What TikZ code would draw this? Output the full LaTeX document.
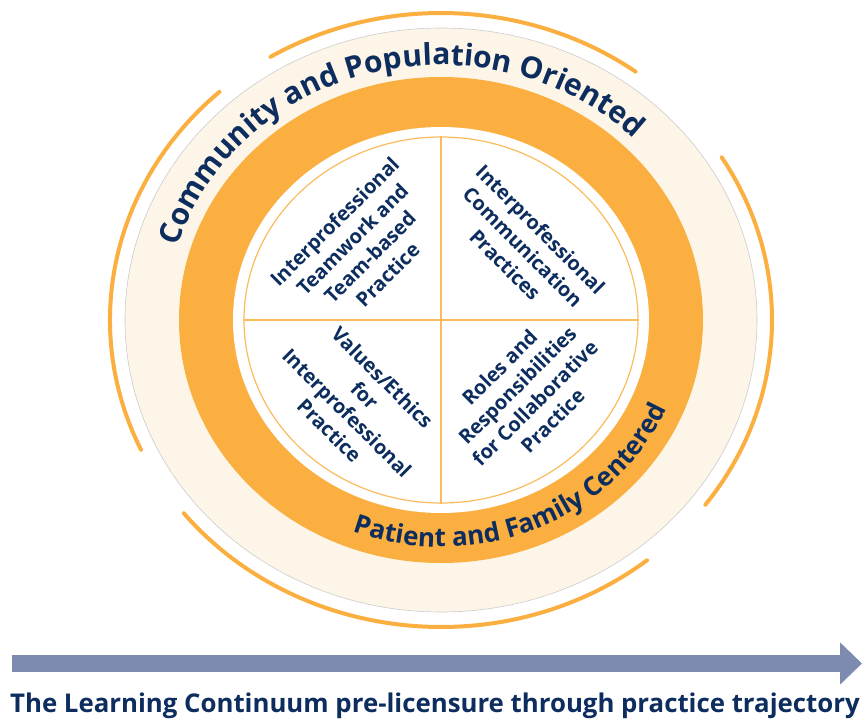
\documentclass[tikz,border=0pt]{standalone}
\usepackage{fontspec}
\setmainfont{Open Sans}
\usetikzlibrary{arrows.meta, decorations.text}

\definecolor{ringorange}{RGB}{250,175,64}
\definecolor{ringcream}{RGB}{253,245,231}
\definecolor{navytext}{RGB}{12,45,94}
\definecolor{trajblue}{RGB}{125,139,176}

\newcommand{\bandfont}{\bfseries\fontsize{30}{32}\selectfont}
\newcommand{\centfont}{\bfseries\fontsize{26}{28}\selectfont}

\begin{document}
\begin{tikzpicture}[line cap=round,line join=round,x=1pt,y=1pt,
    outerarc/.style={ringorange, line width=4pt},
    quadline/.style={ringorange!85, line width=1.2pt},
    quadtext/.style={text=navytext, font=\bfseries\fontsize{20}{25}\selectfont, align=center},
    trajarrow/.style={draw=trajblue, line width=17pt, line cap=butt, -{Triangle[length=22pt,width=41pt]}}]
    \useasboundingbox (-441,-401) rectangle (421,320);

    % broken outer ring
    \draw[outerarc] (54:331 and 307) arc[start angle=54, end angle=121, x radius=331, y radius=307];
    \draw[outerarc] (132:331 and 307) arc[start angle=132, end angle=205, x radius=331, y radius=307];
    \draw[outerarc] (219:331 and 307) arc[start angle=219, end angle=308.5, x radius=331, y radius=307];
    \draw[outerarc] (-37:331 and 307) arc[start angle=-37, end angle=32, x radius=331, y radius=307];

    % cream band, orange ring, white core
    \filldraw[fill=ringcream, draw=gray!40, line width=0.6pt] (0,0) ellipse [x radius=316, y radius=292];
    \fill[ringorange] (0,0) ellipse [x radius=262, y radius=243];
    \fill[white] (0,0) ellipse [x radius=208, y radius=193];
    \draw[quadline] (0,0) ellipse [x radius=197, y radius=183];
    \draw[quadline] (-197,0) -- (197,0);
    \draw[quadline] (0,-183) -- (0,183);

    % curved labels
    \path[decorate, decoration={text along path, text align=center, text color=navytext,
        text={|\bandfont|Community and Population Oriented}}]
        (175:275 and 255) arc[start angle=175, end angle=34, x radius=275, y radius=255];
    \path[decorate, decoration={text along path, text align=center, text color=navytext,
        text={|\centfont|Patient and Family Centered}}]
        (230:245 and 227) arc[start angle=230, end angle=357, x radius=245, y radius=227];

    % quadrants
    \node[quadtext, rotate=45] (teamwork) at (-80,72) {Interprofessional\\Teamwork and\\Team-based\\Practice};
    \node[quadtext, rotate=-45] (communication) at (82,73) {Interprofessional\\Communication\\Practices};
    \node[quadtext, rotate=-45] (values) at (-85,-84) {Values/Ethics\\for\\Interprofessional\\Practice};
    \node[quadtext, rotate=45] (roles) at (85,-74) {Roles and\\Responsibilities\\for Collaborative\\Practice};

    % learning continuum
    \coordinate (trajstart) at (-429,-343.5);
    \coordinate (trajend) at (421,-343.5);
    \draw[trajarrow] (trajstart) -- (trajend);
    \node[text=navytext, font=\bfseries\fontsize{25.8}{28}\selectfont, anchor=base] (trajlabel) at (-6,-392)
        {The Learning Continuum pre-licensure through practice trajectory};
\end{tikzpicture}
\end{document}
